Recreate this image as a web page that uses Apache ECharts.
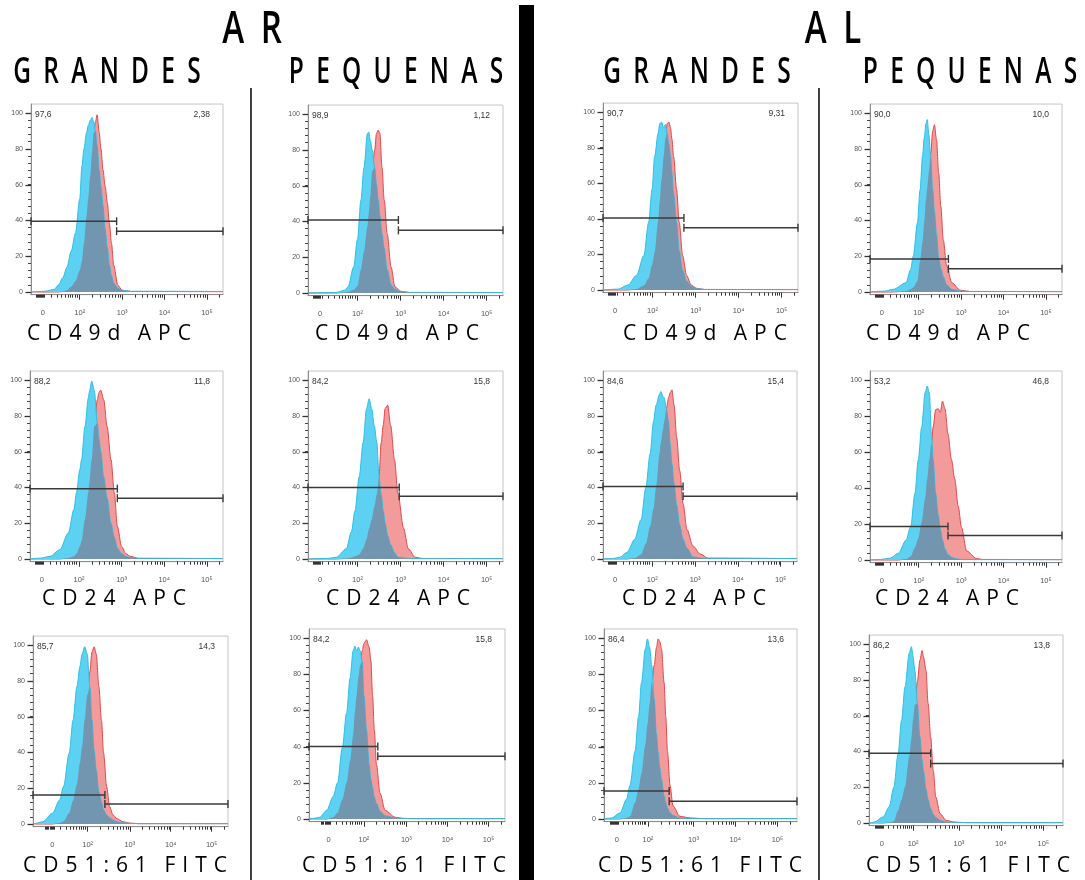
<!DOCTYPE html>
<html><head><meta charset="utf-8">
<script src="https://cdn.jsdelivr.net/npm/echarts@6/dist/echarts.min.js"></script>
<style>html,body{margin:0;padding:0;background:#fff}#c{width:1085px;height:880px}</style>
</head><body><div id="c"></div>
<script>
// ---- axis ranges (display units: decades of fluorescence on a biexponential scale) ----
const X_MIN = 0.85, X_MAX = 5.38, Y_MIN = -1.5, Y_MAX = 105;

// ---- panel data: shared x-grid (display units), red and blue histogram heights (% of max) ----
// Row 1: CD49d APC
const U1 = [0.85,1.0,1.2,1.4,1.5,1.6,1.7,1.8,1.9,2.0,2.05,2.1,2.16,2.2,2.25,2.29,2.33,2.37,2.41,2.46,2.5,2.55,2.6,2.65,2.7,2.75,2.8,2.9,3.0,3.2,5.38];
const BLUE1 = [0,0.2,0.5,1.5,4,8,14,23,33,52,70,80,89,93,96,97.5,95,90,82,68,59,48,35,25,15,9,5,2,1,0.4,0.3];
const RED1 = [0,0,0,0,0,0.3,1,3,6,12,17,27,42,52,65,78,89,95,99,89,80,68,59,50,38,27,15,3.7,1,0.3,0.2];

const U2 = [0.85,1.5,1.7,1.78,1.91,2.0,2.08,2.15,2.23,2.26,2.3,2.34,2.4,2.44,2.48,2.52,2.57,2.62,2.69,2.78,2.87,3.0,3.2,5.38];
const BLUE2 = [0,0.3,1.5,3.4,14.5,30,52,70,89,90,85,80,70,61,52,43,33,25,13,4.5,2,0.8,0.3,0.3];
const RED2 = [0,0,0.3,0.7,1.8,3.8,13,23,37,44,54,68,80,89,91,89,70,52,33,14.5,3.4,1,0.3,0.2];

const U3 = [0.85,1.2,1.43,1.63,1.8,1.91,1.99,2.05,2.13,2.17,2.21,2.26,2.3,2.34,2.38,2.42,2.45,2.49,2.56,2.62,2.7,2.79,2.9,3.02,3.2,5.38];
const BLUE3 = [0,0.5,2.8,8.3,19.4,38,56.5,75,88,93.5,94.4,91,93,88,82,75,66,54,38,22,11,5,2,0.8,0.3,0.3];
const RED3 = [0,0,0,0.5,2.5,6.5,14,21,38,50,62,75,85,93.5,94.4,91,85,75,56.5,38,19.4,8.3,2.8,1,0.3,0.2];

const U4 = [0.85,1.2,1.4,1.7,1.81,1.87,1.97,2.03,2.09,2.13,2.17,2.2,2.24,2.28,2.33,2.37,2.42,2.47,2.52,2.58,2.66,2.78,2.98,3.2,5.38];
const BLUE4 = [0,0.5,1.5,5.2,12.6,20,38.7,57,76,86,94,96.3,88,76,57,45,32,19,13,8.5,4,1.5,0.5,0.3,0.3];
const RED4 = [0,0,0,0.5,1.5,2.5,6,17,28,38.7,51,58,67,77,90,93.5,85,66.5,48,29,14.5,5.2,1,0.3,0.2];

// Row 2: CD24 APC
const U5 = [0.85,1.1,1.32,1.55,1.75,1.88,1.94,2.02,2.06,2.14,2.22,2.24,2.3,2.36,2.43,2.47,2.51,2.58,2.66,2.75,2.83,2.9,3.0,3.1,3.2,3.4,5.38];
const BLUE5 = [0,0.5,1.5,5.2,14.5,27.6,37,50,55.6,74,90,93,99.4,94,76,67,60,46,34,20,12,6,3,1.4,0.8,0.3,0.3];
const RED5 = [0,0,0,0,0.5,1.5,3,7,10,22,37,42,55.6,74,89,93,94.4,89,74,55.6,37,18.3,7,3,1.5,0.4,0.2];

const U6 = [0.85,1.3,1.51,1.74,1.86,1.94,2.04,2.13,2.21,2.27,2.33,2.39,2.45,2.5,2.55,2.6,2.64,2.7,2.77,2.86,2.94,3.07,3.18,3.34,3.5,5.38];
const BLUE6 = [0,0.3,1,5.7,15.3,26.8,46,65,84,89.5,84,74.6,65,46,36,26.8,20,13,8,3.5,1.1,0.6,0.3,0.2,0.2,0.2];
const RED6 = [0,0,0,0.3,0.8,1.5,2.5,5.7,11,17,22,29,36.3,46,65,75,84,86,74.6,55.4,36.3,17.2,5.7,1,0.3,0.2];

const U7 = [0.85,1.1,1.24,1.41,1.59,1.74,1.85,1.95,2.03,2.09,2.17,2.2,2.25,2.28,2.33,2.38,2.42,2.46,2.51,2.57,2.64,2.72,2.81,2.95,3.12,3.3,5.38];
const BLUE7 = [0,0.3,1,3.7,11,22,40,58.7,77,86,92,93.6,90.8,90,84,77,64,53,42,30,19,11,6,1.2,0.5,0.3,0.3];
const RED7 = [0,0,0,0,0.5,2.5,8.5,18,28,40,58.7,65,72,77,84,90,93,94.5,86,68,49.5,31,16.5,7.3,2.8,0.5,0.2];

const U8 = [0.85,1.1,1.32,1.52,1.7,1.81,1.91,1.99,2.07,2.15,2.2,2.25,2.3,2.34,2.4,2.46,2.51,2.56,2.62,2.69,2.77,2.85,2.93,3.01,3.13,3.36,3.5,5.38];
const BLUE8 = [0,0.3,1,3.7,11,18.6,37,55.8,74,93,96.6,93,70,55.8,37,25,17,11,6,3,1.5,0.8,0.5,0.3,0.3,0.2,0.2,0.2];
const RED8 = [0,0,0,0,0.5,2,7,12,21,34,45,55.8,65,74,83.6,84,82,88.3,84,70,56,45,30,18,5,0.9,0.3,0.2];

// Row 3: CD51:61 FITC
const U9 = [0.85,0.9,1.08,1.3,1.47,1.56,1.69,1.78,1.87,1.94,1.99,2.05,2.11,2.17,2.22,2.27,2.32,2.38,2.44,2.49,2.56,2.63,2.71,2.8,2.94,3.1,3.3,5.38];
const BLUE9 = [0,0.3,1.3,6,13.4,21,39.5,58,76.7,88,95,99,95,76.7,58,41,30,18,12,7.8,5,3.5,2.2,1.2,0.6,0.3,0.2,0.2];
const RED9 = [0,0,0,0,0.5,1.5,6,13,22,34,43,58,72,85,96,99,95,76.7,58,39.5,21,9.7,5,3,1.3,0.5,0.2,0.2];

const U10 = [0.85,0.95,1.1,1.26,1.41,1.51,1.62,1.72,1.8,1.87,1.91,1.95,1.99,2.03,2.08,2.12,2.18,2.24,2.28,2.32,2.36,2.41,2.49,2.61,2.84,3.0,3.2,5.38];
const BLUE10 = [0,0.3,1,4.8,12.5,20,39.4,58.7,78,93,95.5,93,95,93,87,68,49,30,22,17,12,8.5,4.3,1.8,0.6,0.3,0.2,0.2];
const RED10 = [0,0,0,0,1,3.5,10.6,20,32,46,58.7,68,78,85,93,97,99,95,87.5,68,49,30,14.4,4.8,1,0.4,0.2,0.2];

const U11 = [0.85,0.9,1.03,1.23,1.38,1.46,1.58,1.66,1.73,1.82,1.87,1.92,1.97,2.03,2.08,2.12,2.16,2.2,2.26,2.3,2.34,2.4,2.47,2.63,2.87,3.1,3.3,5.38];
const BLUE11 = [0,0.2,0.6,3.4,11,18.6,37.5,56.4,75.4,94,99.5,95,85,66,47,37,28,22,12.9,9,6,3.4,2,0.6,0.3,0.2,0.2,0.2];
const RED11 = [0,0,0,0,0.5,1.5,9,16.5,25,41,52,63,75.4,85,94.5,99.5,98,94,75.4,56.4,37.5,18.6,7.2,1.5,0.6,0.3,0.2,0.2];

const U12 = [0.85,0.9,0.98,1.18,1.32,1.43,1.53,1.61,1.69,1.79,1.84,1.88,1.92,1.98,2.04,2.09,2.12,2.18,2.23,2.29,2.35,2.41,2.51,2.65,2.82,3.0,3.2,5.38];
const BLUE12 = [0,0.2,0.6,3.4,9,20,38.8,57.5,76,94.8,98.5,93,85.4,66.8,48,35,29.5,19,13,8,4.8,3,1.5,0.6,0.3,0.2,0.2,0.2];
const RED12 = [0,0,0,0,0.3,1,7,13,20,37,47,57.5,66,79,91,96.3,93,85.4,66.8,48,29.5,14.5,5.2,1.5,0.6,0.3,0.2,0.2];

// ---- gates and gate percentages ----
const GATE_POS     = [2.87,2.95,2.73,2.70, 2.90,2.97,2.72,2.69, 2.52,2.44,2.38,2.29];
const GATE_LEFT_H  = [39.5,40.8,40.4,18.5, 39.3,40,40.5,18.6, 16.2,40,15.5,39];
const GATE_RIGHT_H = [34,35,35,13, 34,35,35,13.6, 11.2,34.6,9.8,33.2];
const LEFT_PCT  = ['97,6','98,9','90,7','90,0', '88,2','84,2','84,6','53,2', '85,7','84,2','86,4','86,2'];
const RIGHT_PCT = ['2,38','1,12','9,31','10,0', '11,8','15,8','15,4','46,8', '14,3','15,8','13,6','13,8'];

// ---- texts / tick labels ----
const MARKERS = ['CD49d APC','CD24 APC','CD51:61 FITC'];
const GROUPS = ['AR','AL'];
const SIZES = ['GRANDES','PEQUENAS'];
const Y_TICKS = [0,20,40,60,80,100];
const Y_MINOR_TICKS = [4,8,12,16,24,28,32,36,44,48,52,56,64,68,72,76,84,88,92,96];
const X_TICK_LABELS = ['0','10\u00B2','10\u00B3','10\u2074','10\u2075'];
const X_TICK_POS_A = [1.13,2,3,4,5];
const X_TICK_POS_B = [1.3,2.12,3.1,4.05,5.0];
const X_TICK_POS_C = [1.15,1.88,2.95,3.93,4.92];

// ---- layout (pixels): [box left, box right, y of 100, y of 0] ----
const LAYOUT = [
  [31,223,113,292],[308,503,114,293],[603,798,112,290],[870,1062,113,292],
  [30,223,380,559],[308,503,380,559],[603,797,380,559],[870,1062,380,560],
  [33,228,645,824],[309,505,638,819],[604,797,638,819],[869,1063,644,823]
];
const PANEL_TICKS = [X_TICK_POS_A,X_TICK_POS_A,X_TICK_POS_A,X_TICK_POS_A,X_TICK_POS_A,X_TICK_POS_A,X_TICK_POS_A,X_TICK_POS_A,X_TICK_POS_B,X_TICK_POS_B,X_TICK_POS_C,X_TICK_POS_C];
const TITLE_X = [[109,397,705,948],[114,398,694,947],[125,404,700,968]];
const TITLE_Y = [334,599,866];

const PANEL_U = [U1,U2,U3,U4,U5,U6,U7,U8,U9,U10,U11,U12];
const PANEL_RED = [RED1,RED2,RED3,RED4,RED5,RED6,RED7,RED8,RED9,RED10,RED11,RED12];
const PANEL_BLUE = [BLUE1,BLUE2,BLUE3,BLUE4,BLUE5,BLUE6,BLUE7,BLUE8,BLUE9,BLUE10,BLUE11,BLUE12];

const C_RED_FILL = '#f39a9a', C_RED_LINE = '#e2474b';
const C_BLUE_FILL = '#5cd1f2', C_BLUE_LINE = '#2ebfe5';
const C_OVER = '#7295b0';
const TXT = 'Liberation Sans, Arial, sans-serif';

function spread(s, inner, gap) {
  return s.split(' ').map(w => w.split('').join(inner)).join(gap);
}
function minorTicks(T) {
  const out = [];
  const z = T[0], d = T.slice(1);
  for (let v = z - 0.16; v <= z + 0.04; v += 0.025) out.push(+v.toFixed(3));
  const frac = [0.22,0.38,0.5,0.6,0.68,0.75,0.81,0.87,0.93];
  frac.forEach(f => out.push(z + f * (d[0] - z)));
  for (let k = 0; k < d.length; k++) {
    const step = k < d.length - 1 ? d[k+1] - d[k] : d[k] - d[k-1];
    for (let m = 2; m <= 9; m++) {
      const v = d[k] + Math.log10(m) * step;
      if (v < X_MAX) out.push(v);
    }
  }
  return out;
}

const grids = [], xAxes = [], yAxes = [], series = [], graphics = [];

for (let i = 0; i < 12; i++) {
  const [l, r, y100, y0] = LAYOUT[i];
  const pp = (y0 - y100) / 100;
  const top = y100 - (Y_MAX - 100) * pp;
  const bottom = y0 - Y_MIN * pp;
  grids.push({left: l, top: top, width: r - l, height: bottom - top, show: true,
    borderColor: '#c6c6c6', borderWidth: 1, backgroundColor: '#fff'});
  const T = PANEL_TICKS[i];
  xAxes.push({gridIndex: i, type: 'value', min: X_MIN, max: X_MAX, position: 'bottom',
    axisLine: {show: true, onZero: false, lineStyle: {color: '#8c8c8c', width: 1}},
    axisTick: {show: true, customValues: T.slice(1), length: 5, lineStyle: {color: '#333', width: 1}},
    axisLabel: {show: true, customValues: T, margin: 14, fontSize: 7.5, fontFamily: TXT, color: '#555',
      formatter: v => { let k = T.indexOf(v); if (k < 0) { let b = 0; T.forEach((t, j) => { if (Math.abs(t - v) < Math.abs(T[b] - v)) b = j; }); k = b; } return X_TICK_LABELS[k]; }},
    splitLine: {show: false}});
  xAxes.push({gridIndex: i, type: 'value', min: X_MIN, max: X_MAX, position: 'bottom',
    axisLine: {show: false, onZero: false},
    axisTick: {show: true, customValues: minorTicks(T), length: 3, lineStyle: {color: '#333', width: 1}},
    axisLabel: {show: false}, splitLine: {show: false}});
  // y axis: all ticks (major + minor) short; major ticks lengthened by a graphic overlay below
  yAxes.push({gridIndex: i, type: 'value', min: Y_MIN, max: Y_MAX, position: 'left',
    axisLine: {show: true, onZero: false, lineStyle: {color: '#8c8c8c', width: 1}},
    axisTick: {show: true, customValues: Y_TICKS.concat(Y_MINOR_TICKS), length: 3, lineStyle: {color: '#444', width: 1}},
    axisLabel: {show: true, customValues: Y_TICKS, margin: 8, fontSize: 7, fontFamily: TXT, color: '#555'},
    splitLine: {show: false}});

  const U = PANEL_U[i], R = PANEL_RED[i], B = PANEL_BLUE[i];
  const xi = 2 * i;
  const common = {type: 'line', xAxisIndex: xi, yAxisIndex: i, smooth: 0.3, smoothMonotone: 'x',
    symbol: 'none', silent: true, animation: false};
  series.push(Object.assign({}, common, {data: U.map((u, k) => [u, R[k]]), z: 2,
    lineStyle: {color: C_RED_LINE, width: 1}, areaStyle: {color: C_RED_FILL, opacity: 1}}));
  series.push(Object.assign({}, common, {data: U.map((u, k) => [u, B[k]]), z: 3,
    lineStyle: {color: C_BLUE_LINE, width: 1}, areaStyle: {color: C_BLUE_FILL, opacity: 1}}));
  series.push(Object.assign({}, common, {data: U.map((u, k) => [u, Math.min(R[k], B[k])]), z: 4,
    lineStyle: {width: 0, opacity: 0}, areaStyle: {color: C_OVER, opacity: 1}}));
  const gate = {type: 'line', xAxisIndex: xi, yAxisIndex: i, symbol: 'rect', symbolSize: [1.4, 8],
    showSymbol: true, clip: false, silent: true, animation: false, z: 6,
    lineStyle: {color: '#3a3a3a', width: 1.5}, itemStyle: {color: '#3a3a3a'}};
  series.push(Object.assign({}, gate, {data: [[X_MIN, GATE_LEFT_H[i]], [GATE_POS[i], GATE_LEFT_H[i]]]}));
  series.push(Object.assign({}, gate, {data: [[GATE_POS[i], GATE_RIGHT_H[i]], [X_MAX, GATE_RIGHT_H[i]]]}));

  graphics.push({type: 'text', x: l + 4, y: y100 + 2, z: 10, silent: true,
    style: {text: LEFT_PCT[i], font: '8.5px ' + TXT, fill: '#333', align: 'left', verticalAlign: 'middle', textAlign: 'left', textVerticalAlign: 'middle'}});
  graphics.push({type: 'text', x: r - 13, y: y100 + 2, z: 10, silent: true,
    style: {text: RIGHT_PCT[i], font: '8.5px ' + TXT, fill: '#333', align: 'right', verticalAlign: 'middle', textAlign: 'right', textVerticalAlign: 'middle'}});
}

const TF = '"Open Sans", "DejaVu Sans", sans-serif';
function label(text, x, y, size, sx, weight) {
  return {type: 'text', x: x, y: y, scaleX: sx, z: 10, silent: true,
    style: {text: text, font: (weight || 'normal') + ' ' + size + 'px ' + TF, fill: '#000', align: 'center', verticalAlign: 'middle', textAlign: 'center', textVerticalAlign: 'middle'}};
}
// marker titles
for (let rI = 0; rI < 3; rI++) for (let c = 0; c < 4; c++) {
  graphics.push(label(spread(MARKERS[rI], '\u2004', '\u2002\u2004'), TITLE_X[rI][c], TITLE_Y[rI], 21, 1.0));
}
// headers
graphics.push(label(spread(GROUPS[0], '\u2002', ' '), 252, 30, 46, 0.72, 600));
graphics.push(label(spread(GROUPS[1], '\u2002', ' '), 833, 30, 46, 0.72, 600));
graphics.push(label(spread(SIZES[0], '\u2002', ' '), 107, 73, 36, 0.68, 600));
graphics.push(label(spread(SIZES[1], '\u2002', ' '), 396, 73, 36, 0.68, 600));
graphics.push(label(spread(SIZES[0], '\u2002', ' '), 697, 73, 36, 0.68, 600));
graphics.push(label(spread(SIZES[1], '\u2002', ' '), 970, 73, 36, 0.68, 600));
// separators
graphics.push({type: 'rect', shape: {x: 519, y: 5, width: 15, height: 875}, style: {fill: '#000'}, z: 10, silent: true});
graphics.push({type: 'line', shape: {x1: 251, y1: 88, x2: 251, y2: 880}, style: {stroke: '#000', lineWidth: 1.5}, z: 10, silent: true});
graphics.push({type: 'line', shape: {x1: 819, y1: 88, x2: 819, y2: 880}, style: {stroke: '#000', lineWidth: 1.5}, z: 10, silent: true});

const chart = echarts.init(document.getElementById('c'), null, {renderer: 'canvas'});
chart.setOption({animation: false, backgroundColor: '#fff', grid: grids, xAxis: xAxes, yAxis: yAxes, series: series, graphic: graphics});

// lengthen the major y ticks, positioned through each panel's own axis scale
const tickGraphics = [];
for (let i = 0; i < 12; i++) {
  Y_TICKS.forEach(v => {
    const p = chart.convertToPixel({gridIndex: i}, [X_MIN, v]);
    if (!p || !isFinite(p[0]) || !isFinite(p[1])) return;
    const yy = Math.round(p[1]) + 0.5;
    tickGraphics.push({type: 'line', z: 10, silent: true,
      shape: {x1: p[0] - 5.5, y1: yy, x2: p[0], y2: yy}, style: {stroke: '#333', lineWidth: 1.3}});
  });
}
if (tickGraphics.length) chart.setOption({graphic: graphics.concat(tickGraphics)});
</script></body></html>
